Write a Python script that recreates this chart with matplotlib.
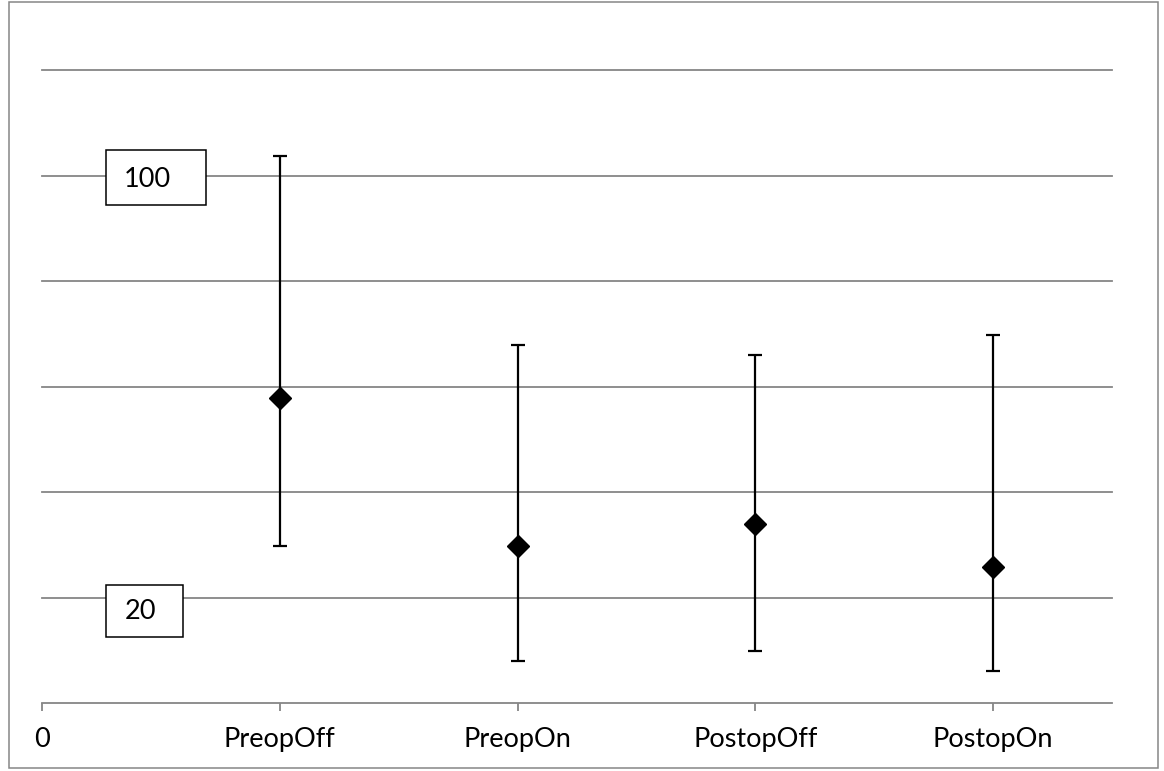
import matplotlib.pyplot as plt
from matplotlib.patches import Rectangle

# data
groups = ["PreopOff", "PreopOn", "PostopOff", "PostopOn"]
mean_vals = [57.8, 29.8, 33.9, 25.8]
upper_vals = [103.7, 67.9, 66.0, 69.8]
lower_vals = [29.8, 8.0, 9.9, 6.1]
box_labels = ["100", "20"]

plt.rcParams['font.family'] = ['Lato', 'DejaVu Sans']
FS = 19.5

fig = plt.figure(figsize=(11.64, 7.71), dpi=100)
W, H = 1164, 771
ax = fig.add_axes([42 / W, 1 - 703 / H, (1112 - 42) / W, (703 - 70) / H])

x = list(range(1, len(groups) + 1))
err_lo = [m - l for m, l in zip(mean_vals, lower_vals)]
err_hi = [u - m for m, u in zip(mean_vals, upper_vals)]
ax.errorbar(x, mean_vals, yerr=[err_lo, err_hi], fmt='D', color='black',
            ecolor='black', elinewidth=1.6, capsize=5, capthick=1.6,
            markersize=11, zorder=3)

ax.set_xlim(0, 4.5)
ax.set_ylim(0, 120)
ax.set_yticks(range(20, 121, 20))
ax.yaxis.grid(True, color='#868686', linewidth=1.3)
for gl in ax.get_ygridlines():
    gl.set_clip_on(False)
ax.set_axisbelow(True)
ax.tick_params(axis='y', left=False, labelleft=False)

ax.set_xticks([0] + x)
ax.set_xticklabels(["0"] + groups, fontsize=FS)
ax.tick_params(axis='x', length=6, width=1.3, color='#868686', pad=11)
for s in ['left', 'right', 'top']:
    ax.spines[s].set_visible(False)
ax.spines['bottom'].set_color('#868686')
ax.spines['bottom'].set_linewidth(1.3)

# text boxes on the left
ax.add_patch(Rectangle((0.269, 94.4), 0.421, 10.4, facecolor='white',
                       edgecolor='black', linewidth=1.1, zorder=4, clip_on=False))
ax.text(0.345, 99.3, box_labels[0], fontsize=FS, va='center', ha='left', zorder=5)
ax.add_patch(Rectangle((0.269, 12.5), 0.324, 9.9, facecolor='white',
                       edgecolor='black', linewidth=1.1, zorder=4, clip_on=False))
ax.text(0.35, 17.4, box_labels[1], fontsize=FS, va='center', ha='left', zorder=5)

# chart frame
fig.patches.append(Rectangle((9 / W, 1 - 768 / H), (1158 - 9) / W, (768 - 2) / H,
                             transform=fig.transFigure, facecolor='none',
                             edgecolor='#868686', linewidth=1.1))

fig.savefig("out.png", dpi=100)
